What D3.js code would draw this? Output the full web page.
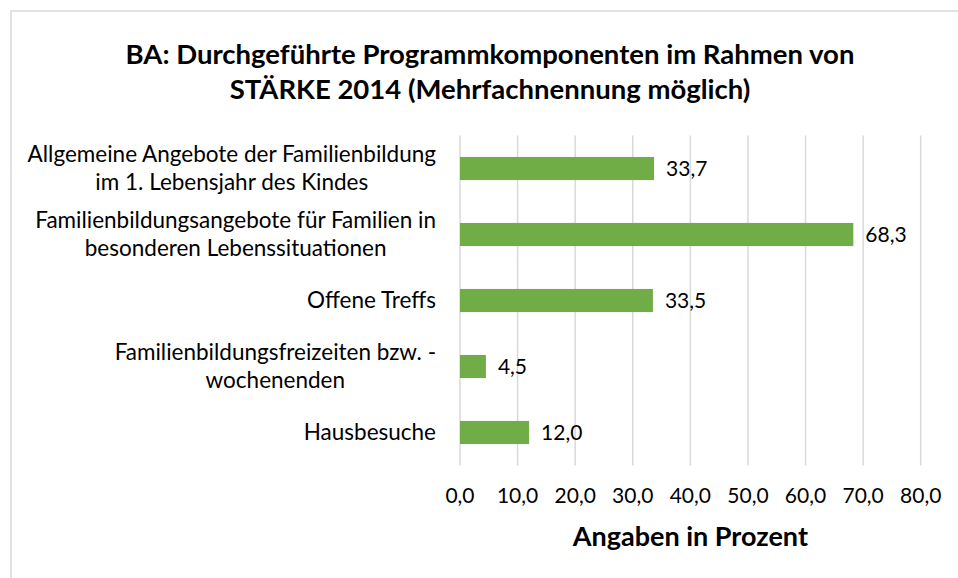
<!DOCTYPE html>
<html>
<head>
    <title>STÄRKE 2014 Programmkomponenten</title>
    <style>
        body { margin: 0; background: #fff; }
        svg text { font-family: Lato, "Open Sans", sans-serif; fill: #000; }
        .grid line { stroke: #d9d9d9; stroke-width: 1.5; }
        .bar { fill: #70ad47; }
    </style>
</head>
<body>
    <div id="chart"></div>
    <script src="https://d3js.org/d3.v7.min.js"></script>
    <script>
        // data
        const categories = [
            ["Allgemeine Angebote der Familienbildung", "im 1. Lebensjahr des Kindes"],
            ["Familienbildungsangebote für Familien in", "besonderen Lebenssituationen"],
            ["Offene Treffs"],
            ["Familienbildungsfreizeiten bzw. -", "wochenenden"],
            ["Hausbesuche"]
        ];
        const values = [33.7, 68.3, 33.5, 4.5, 12.0];
        const xTicks = [0, 10, 20, 30, 40, 50, 60, 70, 80];
        const titleLines = ["BA: Durchgeführte Programmkomponenten im Rahmen von", "STÄRKE 2014 (Mehrfachnennung möglich)"];
        const axisTitle = "Angaben in Prozent";

        const W = 958, H = 578;
        const plot = { left: 460, right: 920.7, top: 135.5, bottom: 465.5 };
        const fmt = v => v.toFixed(1).replace(".", ",");

        const svg = d3.select("#chart").append("svg")
            .attr("width", W)
            .attr("height", H);

        // chart area frame (cropped at right/bottom)
        svg.append("rect")
            .attr("x", 11).attr("y", 11)
            .attr("width", W + 20).attr("height", H + 20)
            .attr("fill", "none")
            .attr("stroke", "#d9d9d9")
            .attr("stroke-width", 1.5);

        const x = d3.scaleLinear().domain([0, 80]).range([plot.left, plot.right]);
        const y = d3.scaleBand()
            .domain(d3.range(values.length))
            .range([plot.top, plot.bottom])
            .paddingInner(0.65)
            .paddingOuter(0.325);

        // gridlines
        svg.append("g").attr("class", "grid")
            .selectAll("line").data(xTicks).join("line")
            .attr("x1", d => x(d)).attr("x2", d => x(d))
            .attr("y1", plot.top).attr("y2", plot.bottom);

        // bars
        svg.selectAll(".bar").data(values).join("rect")
            .attr("class", "bar")
            .attr("x", x(0))
            .attr("y", (d, i) => y(i))
            .attr("width", d => x(d) - x(0))
            .attr("height", y.bandwidth());

        // value labels
        svg.selectAll(".val").data(values).join("text")
            .attr("class", "val")
            .attr("x", d => x(d) + 12)
            .attr("y", (d, i) => y(i) + y.bandwidth() / 2)
            .attr("dy", "0.35em")
            .attr("font-size", 21)
            .text(fmt);

        // category labels: lines centered on each other, block right aligned
        const lineH = 28;
        const labelRight = 436;
        categories.forEach((lines, i) => {
            const cy = y(i) + y.bandwidth() / 2;
            const g = svg.append("g");
            const texts = g.selectAll("text").data(lines).join("text")
                .attr("font-size", 22.5)
                .attr("text-anchor", "middle")
                .attr("y", (d, k) => cy + (k - (lines.length - 1) / 2) * lineH)
                .attr("dy", "0.35em")
                .text(d => d);
            const maxW = d3.max(texts.nodes(), n => n.getComputedTextLength());
            texts.attr("x", labelRight - maxW / 2);
        });

        // x tick labels
        svg.selectAll(".tick-label").data(xTicks).join("text")
            .attr("class", "tick-label")
            .attr("x", d => x(d))
            .attr("y", 496)
            .attr("dy", "0.35em")
            .attr("text-anchor", "middle")
            .attr("font-size", 21)
            .text(fmt);

        // axis title
        svg.append("text")
            .attr("x", (plot.left + plot.right) / 2)
            .attr("y", 537)
            .attr("dy", "0.35em")
            .attr("text-anchor", "middle")
            .attr("font-size", 27)
            .attr("font-weight", "bold")
            .text(axisTitle);

        // title
        svg.selectAll(".title").data(titleLines).join("text")
            .attr("class", "title")
            .attr("x", 490)
            .attr("y", (d, i) => 54 + i * 35)
            .attr("dy", "0.35em")
            .attr("text-anchor", "middle")
            .attr("font-size", 27.5)
            .attr("font-weight", "bold")
            .text(d => d);
    </script>
</body>
</html>
